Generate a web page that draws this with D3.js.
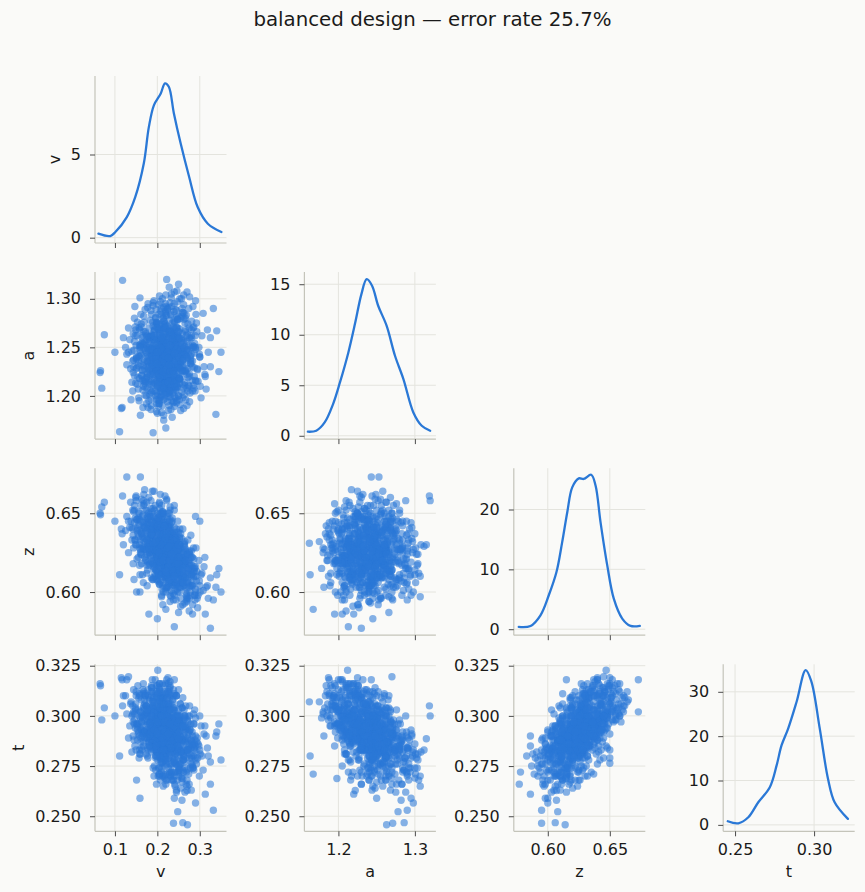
<!DOCTYPE html>
<html>
<head>
<meta charset="utf-8">
<script src="https://cdn.jsdelivr.net/npm/d3@7"></script>
<style>
  body { margin: 0; background: #fafaf8; }
  svg { display: block; font-family: "DejaVu Sans", sans-serif; }
</style>
</head>
<body>
<div id="chart"></div>
<script>
// posterior draws, one row per draw: [v, a, z, t]
const drawsA = [
  [.228,1.228,.631,.292],[.181,1.261,.625,.293],[.261,1.243,.620,.278],[.207,1.204,.643,.307],
  [.240,1.256,.609,.290],[.156,1.241,.643,.292],[.215,1.277,.622,.285],[.253,1.217,.630,.288],
  [.194,1.235,.612,.293],[.286,1.251,.613,.273],[.177,1.222,.640,.297],[.232,1.267,.620,.289],
  [.211,1.246,.639,.289],[.244,1.212,.615,.300],[.165,1.254,.635,.295],[.270,1.233,.624,.282],
  [.219,1.220,.611,.291],[.190,1.272,.633,.285],[.223,1.238,.643,.305],[.202,1.196,.618,.296],
  [.257,1.259,.618,.282],[.144,1.230,.651,.302],[.236,1.248,.627,.301],[.198,1.215,.623,.285],
  [.249,1.282,.627,.288],[.186,1.243,.619,.282],[.215,1.225,.630,.303],[.278,1.241,.604,.288],
  [.173,1.264,.639,.281],[.228,1.207,.623,.294],[.207,1.256,.624,.291],[.240,1.228,.635,.291],
  [.181,1.202,.634,.304],[.265,1.251,.619,.288],[.219,1.287,.618,.279],[.169,1.235,.627,.292],
  [.232,1.217,.606,.293],[.194,1.248,.647,.299],[.253,1.269,.617,.276],[.211,1.209,.634,.309],
  [.176,1.244,.629,.296],[.205,1.262,.641,.294],[.248,1.231,.612,.287],[.231,1.210,.628,.299],
  [.189,1.239,.637,.297],[.262,1.255,.622,.283],[.214,1.270,.619,.284],[.199,1.223,.644,.301],
  [.227,1.246,.633,.295],[.243,1.198,.620,.296],[.158,1.252,.646,.300],[.218,1.233,.616,.288],
  [.272,1.219,.611,.289],[.196,1.281,.627,.286],[.209,1.214,.631,.300],[.237,1.265,.626,.287],
  [.183,1.205,.623,.297],[.226,1.240,.640,.299],[.251,1.247,.616,.284],[.170,1.228,.641,.298],
  [.220,1.257,.609,.281],[.204,1.192,.630,.303],[.241,1.276,.630,.289],[.212,1.226,.622,.291],
  [.279,1.236,.614,.284],[.193,1.250,.652,.303],[.233,1.218,.605,.288],[.166,1.262,.629,.291],
  [.258,1.204,.625,.297],[.201,1.244,.618,.289],[.224,1.289,.636,.290],[.187,1.217,.626,.294],
  [.246,1.253,.638,.297],[.210,1.201,.612,.293],[.268,1.241,.620,.286],[.178,1.235,.648,.302],
  [.216,1.273,.628,.287],[.239,1.222,.633,.298],[.197,1.259,.614,.284],[.229,1.232,.624,.292],
  [.152,1.229,.639,.295],[.285,1.250,.609,.280],[.207,1.208,.640,.305],[.221,1.264,.630,.291],
  [.255,1.228,.603,.283],[.185,1.247,.632,.292],[.234,1.195,.621,.297],[.203,1.268,.645,.298],
  [.249,1.239,.627,.292],[.172,1.215,.620,.292],[.217,1.251,.636,.296],[.263,1.279,.618,.280],
  [.195,1.232,.629,.295],[.238,1.245,.612,.285],[.208,1.225,.650,.306],[.226,1.206,.617,.294],
  [.180,1.270,.638,.292],[.244,1.220,.626,.295],[.213,1.242,.604,.284],[.275,1.260,.625,.286],
  [.191,1.211,.616,.292],[.230,1.256,.642,.299],[.160,1.244,.633,.294],[.252,1.213,.629,.298],
  [.219,1.285,.621,.283],[.200,1.237,.637,.298],[.241,1.232,.606,.283],[.182,1.258,.625,.289],
  [.266,1.226,.617,.289],[.211,1.218,.634,.301],[.227,1.267,.613,.282],[.174,1.200,.644,.305],
  [.235,1.240,.631,.295],[.206,1.252,.611,.285],[.257,1.245,.634,.294],[.190,1.224,.620,.292],
  [.222,1.234,.643,.301],[.290,1.216,.602,.285],[.198,1.275,.640,.293],[.247,1.209,.618,.293],
  [.215,1.248,.626,.292],[.168,1.238,.655,.304],[.232,1.283,.628,.286],[.202,1.220,.608,.287],
  [.260,1.237,.622,.288],[.186,1.261,.645,.298],[.225,1.203,.627,.300],[.240,1.262,.620,.285],
  [.209,1.230,.646,.302],[.177,1.249,.614,.289],[.253,1.226,.635,.298],[.218,1.274,.609,.280],
  [.194,1.213,.631,.300],[.236,1.236,.617,.289],[.163,1.221,.624,.297],[.270,1.248,.613,.283],
  [.212,1.258,.639,.296],[.228,1.190,.630,.303],[.188,1.242,.608,.287],[.245,1.271,.632,.290],
  [.205,1.232,.621,.292],[.259,1.212,.620,.293],[.183,1.278,.634,.290],[.223,1.245,.648,.300],
  [.200,1.227,.613,.289],[.282,1.230,.622,.287],[.214,1.261,.624,.288],[.171,1.209,.632,.301],
  [.242,1.250,.625,.291],[.196,1.245,.641,.298],[.231,1.219,.614,.290],[.254,1.280,.611,.279],
  [.207,1.199,.626,.302],[.179,1.256,.650,.301],[.238,1.228,.636,.298],[.219,1.238,.610,.287],
  [.264,1.243,.630,.292],[.192,1.266,.618,.285],[.226,1.211,.642,.304],[.155,1.236,.635,.296],
  [.248,1.262,.616,.283],[.211,1.222,.629,.296],[.233,1.251,.644,.299],[.186,1.229,.609,.288],
  [.273,1.211,.618,.291],[.203,1.284,.633,.288],[.229,1.238,.621,.291],[.167,1.253,.628,.292],
  [.250,1.218,.608,.287],[.214,1.269,.646,.297],[.198,1.203,.618,.295],[.240,1.247,.638,.297],
  [.221,1.227,.603,.283],[.184,1.241,.636,.297],[.261,1.257,.626,.288],[.208,1.214,.637,.303],
  [.235,1.275,.619,.283],[.175,1.219,.617,.293],[.253,1.236,.640,.297],[.216,1.256,.616,.286],
  [.190,1.234,.653,.304],[.244,1.206,.623,.296],[.229,1.263,.635,.294],[.201,1.248,.607,.284],
  [.287,1.244,.616,.284],[.162,1.271,.637,.293],[.222,1.215,.625,.296],[.246,1.240,.632,.294],
  [.209,1.290,.624,.284],[.181,1.226,.627,.296],[.236,1.254,.610,.282],[.217,1.208,.644,.306],
  [.256,1.230,.616,.289],[.195,1.260,.640,.295],[.230,1.224,.628,.295],[.173,1.245,.621,.291],
  [.266,1.266,.626,.287],[.204,1.233,.633,.297],[.241,1.215,.613,.290],[.213,1.252,.628,.292],
  [.128,1.232,.648,.301],[.135,1.258,.641,.295],[.140,1.214,.633,.300],[.146,1.280,.652,.298],
  [.132,1.245,.625,.289],[.138,1.196,.645,.307],[.149,1.268,.660,.303],[.143,1.224,.618,.290],
  [.125,1.250,.639,.310],[.150,1.238,.630,.283],[.300,1.240,.604,.283],[.305,1.262,.612,.280],
  [.296,1.215,.598,.286],[.310,1.230,.616,.291],[.292,1.275,.607,.276],[.315,1.207,.603,.290],
  [.298,1.250,.620,.285],[.320,1.245,.596,.280],[.303,1.198,.611,.295],[.308,1.285,.601,.273],
  [.295,1.227,.590,.279],[.325,1.260,.609,.277],[.312,1.222,.622,.295],[.289,1.205,.595,.288],
  [.318,1.268,.604,.284],[.284,1.292,.615,.274],[.276,1.302,.624,.279],[.246,1.308,.630,.282],
  [.212,1.300,.637,.286],[.190,1.296,.641,.291],[.228,1.312,.629,.283],[.262,1.294,.610,.272],
  [.200,1.182,.627,.304],[.235,1.178,.615,.299],[.255,1.185,.620,.300],[.178,1.188,.644,.310],
  [.215,1.175,.632,.307],[.270,1.190,.606,.295],[.160,1.180,.625,.302],[.245,1.193,.640,.310],
  [.207,1.232,.662,.309],[.222,1.248,.659,.306],[.188,1.225,.664,.312],[.175,1.262,.657,.301],
  [.240,1.215,.655,.311],[.230,1.240,.594,.280],[.260,1.226,.592,.278],[.210,1.255,.597,.282],
  [.275,1.210,.588,.281],[.248,1.270,.600,.272],[.220,1.283,.617,.266],[.238,1.262,.612,.268],
  [.205,1.244,.605,.270],[.255,1.248,.620,.264],[.265,1.275,.603,.262],[.228,1.230,.611,.272],
  [.198,1.276,.608,.266],[.245,1.288,.615,.262],[.270,1.256,.596,.268],[.190,1.262,.619,.274],
  [.218,1.205,.622,.275],[.240,1.295,.598,.259],[.258,1.282,.607,.258],[.280,1.268,.610,.263],
  [.233,1.305,.612,.268],[.212,1.220,.648,.316],[.195,1.205,.640,.318],[.230,1.210,.652,.314],
  [.178,1.235,.646,.313],[.205,1.195,.656,.316],[.168,1.215,.642,.312],[.225,1.225,.650,.319],
  [.250,1.200,.638,.313],[.186,1.190,.636,.315]
];

const drawsB = [
  [.214,1.247,.622,.301],[.198,1.226,.638,.287],[.236,1.262,.628,.279],[.225,1.219,.611,.296],
  [.187,1.241,.645,.310],[.249,1.233,.616,.275],[.207,1.273,.634,.296],[.261,1.208,.604,.281],
  [.173,1.252,.627,.305],[.229,1.236,.641,.285],[.218,1.197,.620,.303],[.243,1.255,.636,.292],
  [.192,1.231,.615,.270],[.205,1.266,.648,.304],[.256,1.243,.609,.296],[.181,1.212,.630,.308],
  [.232,1.284,.625,.272],[.211,1.240,.602,.277],[.267,1.226,.627,.293],[.199,1.258,.622,.282],
  [.224,1.221,.646,.312],[.178,1.248,.643,.283],[.247,1.279,.619,.268],[.209,1.205,.631,.298],
  [.237,1.238,.599,.284],[.164,1.227,.637,.293],[.281,1.250,.611,.279],[.203,1.269,.613,.291],
  [.219,1.214,.634,.287],[.254,1.232,.630,.306],[.190,1.244,.608,.289],[.227,1.291,.637,.289],
  [.242,1.210,.623,.281],[.213,1.256,.651,.309],[.176,1.223,.624,.280],[.259,1.264,.614,.287],
  [.208,1.230,.619,.309],[.233,1.247,.631,.275],[.196,1.200,.640,.302],[.271,1.239,.607,.294],
  [.217,1.260,.626,.303],[.185,1.234,.653,.297],[.250,1.217,.618,.270],[.223,1.272,.603,.282],
  [.201,1.243,.633,.278],[.239,1.194,.625,.310],[.168,1.266,.641,.300],[.230,1.228,.612,.293],
  [.212,1.251,.636,.283],[.264,1.211,.621,.300],[.195,1.237,.628,.311],[.245,1.281,.626,.296],
  [.220,1.216,.608,.277],[.182,1.250,.618,.285],[.235,1.263,.645,.300],[.206,1.208,.621,.289],
  [.274,1.245,.620,.283],[.189,1.276,.639,.290],[.228,1.223,.631,.313],[.215,1.238,.616,.271],
  [.252,1.229,.634,.285],[.170,1.213,.634,.306],[.240,1.269,.610,.288],[.197,1.247,.625,.300],
  [.226,1.199,.639,.296],[.258,1.257,.619,.304],[.210,1.284,.629,.274],[.183,1.222,.648,.294],
  [.244,1.241,.606,.276],[.216,1.265,.642,.308],
  [.151,1.239,.646,.296],[.158,1.218,.630,.310],[.146,1.256,.655,.301],[.162,1.274,.638,.284],
  [.155,1.231,.622,.291],[.140,1.246,.641,.282],[.166,1.206,.649,.313],[.148,1.262,.633,.304],
  [.137,1.228,.657,.306],[.160,1.251,.627,.299],[.153,1.212,.640,.288],[.171,1.289,.645,.292],
  [.144,1.237,.628,.313],[.157,1.270,.650,.279],[.163,1.221,.618,.300],
  [.283,1.236,.604,.285],[.277,1.259,.617,.293],[.291,1.215,.610,.278],[.269,1.247,.599,.273],
  [.286,1.271,.621,.296],[.294,1.228,.596,.289],[.272,1.205,.612,.300],[.280,1.262,.626,.280],
  [.299,1.243,.607,.270],[.275,1.223,.603,.292],[.288,1.254,.615,.303],[.266,1.280,.609,.283],
  [.301,1.210,.600,.281],[.278,1.238,.622,.274],[.293,1.266,.613,.287],
  [.211,1.246,.628,.295],[.221,1.232,.624,.290],[.204,1.253,.631,.287],[.231,1.241,.621,.293],
  [.196,1.227,.634,.299],[.238,1.258,.618,.282],[.215,1.219,.626,.301],[.226,1.264,.632,.286],
  [.200,1.236,.620,.290],[.244,1.229,.625,.294],[.188,1.249,.638,.295],[.219,1.271,.622,.283],
  [.234,1.214,.616,.296],[.207,1.243,.640,.303],[.249,1.252,.611,.284],[.193,1.218,.629,.302],
  [.228,1.238,.635,.297],[.213,1.261,.617,.284],[.241,1.225,.630,.299],[.202,1.245,.625,.291],
  [.222,1.207,.628,.304],[.186,1.263,.627,.287],[.246,1.244,.620,.289],[.209,1.230,.612,.286],
  [.233,1.256,.638,.294],[.197,1.240,.646,.301],[.255,1.235,.614,.290],[.214,1.280,.633,.284],
  [.180,1.228,.631,.297],[.236,1.209,.609,.292],[.218,1.250,.642,.293],[.250,1.266,.624,.283],
  [.205,1.216,.619,.296],[.226,1.246,.604,.279],[.192,1.257,.636,.290],[.240,1.220,.627,.303],
  [.211,1.233,.637,.307],[.262,1.249,.617,.280],[.199,1.274,.626,.282],[.229,1.202,.633,.309],
  [.216,1.242,.623,.288],[.183,1.237,.640,.292],[.243,1.261,.629,.291],[.207,1.224,.606,.282],
  [.224,1.253,.619,.295],[.252,1.218,.622,.298],[.195,1.248,.632,.286],[.232,1.231,.614,.286],
  [.210,1.268,.641,.297],[.176,1.241,.635,.300],[.247,1.238,.633,.300],[.220,1.211,.618,.292],
  [.239,1.277,.620,.278],[.204,1.239,.649,.307],[.257,1.226,.608,.288],[.190,1.252,.623,.294],
  [.227,1.244,.636,.305],[.214,1.213,.624,.299],[.245,1.254,.612,.283],[.201,1.229,.629,.293],
  [.235,1.240,.625,.286],[.212,1.259,.615,.280],[.189,1.222,.642,.305],[.230,1.270,.630,.289],
  [.218,1.204,.630,.300],[.253,1.247,.621,.290],[.197,1.235,.614,.283],[.241,1.216,.632,.304],
  [.208,1.248,.634,.291],[.225,1.228,.609,.287],[.180,1.260,.630,.287],[.248,1.233,.616,.293],
  [.216,1.277,.627,.281],[.199,1.211,.625,.302],[.237,1.250,.623,.296],[.260,1.230,.625,.295],
  [.203,1.257,.638,.290],[.222,1.237,.641,.301],[.243,1.207,.619,.300],[.212,1.243,.613,.289],
  [.228,1.266,.625,.279],[.191,1.247,.630,.298],[.234,1.221,.637,.303],[.217,1.234,.620,.283],
  [.251,1.259,.627,.288],[.206,1.226,.623,.288],[.238,1.245,.616,.286],[.185,1.215,.636,.301],
  [.221,1.250,.630,.296],[.246,1.212,.613,.289],[.194,1.268,.644,.296],[.230,1.236,.618,.290],
  [.213,1.221,.643,.306],[.256,1.242,.610,.282],[.200,1.249,.617,.287],[.241,1.264,.634,.287],
  [.224,1.218,.612,.296],[.209,1.238,.626,.300],[.186,1.233,.626,.290],[.233,1.255,.628,.292],
  [.223,1.240,.622,.268],[.205,1.252,.618,.271],[.241,1.230,.611,.266],[.196,1.228,.625,.273],
  [.232,1.262,.630,.270],[.214,1.245,.606,.265],[.251,1.219,.615,.272],[.187,1.248,.636,.314],
  [.226,1.215,.641,.316],[.209,1.233,.646,.312],[.238,1.226,.633,.313],[.200,1.210,.629,.315],
  [.217,1.270,.614,.269],[.245,1.244,.605,.263],[.193,1.258,.627,.275],[.230,1.205,.638,.317],
  [.212,1.222,.651,.311],[.258,1.250,.618,.267],[.202,1.237,.610,.270],[.220,1.213,.632,.316],
  [.215,1.180,.628,.301],[.232,1.186,.620,.306],[.198,1.192,.633,.309],[.246,1.195,.619,.295],
  [.210,1.183,.637,.310],[.224,1.290,.626,.284],[.207,1.297,.632,.280],[.239,1.287,.617,.277],
  [.190,1.293,.640,.288],[.253,1.300,.614,.274],[.220,1.304,.624,.281],[.203,1.189,.624,.300],
  [.230,1.296,.634,.290],[.185,1.197,.629,.304],[.260,1.286,.609,.273],
  [.180,1.240,.617,.287],[.195,1.230,.610,.283],[.240,1.250,.641,.297],[.255,1.236,.637,.296],
  [.170,1.255,.622,.289],[.265,1.225,.632,.300],[.205,1.265,.605,.280],[.228,1.242,.650,.306],
  [.175,1.219,.612,.289],[.248,1.260,.645,.300]
];

const drawsC = [
  [.142,1.205,.640,.301],[.147,1.292,.633,.285],[.152,1.262,.621,.296],[.156,1.198,.651,.309],
  [.161,1.284,.645,.289],[.165,1.216,.611,.290],[.169,1.276,.656,.303],[.174,1.192,.626,.305],
  [.178,1.295,.619,.279],[.145,1.247,.608,.288],[.150,1.228,.661,.310],[.158,1.240,.617,.283],
  [.163,1.255,.659,.297],[.167,1.231,.606,.285],[.172,1.266,.652,.310],[.176,1.208,.604,.293],
  [.148,1.271,.647,.294],[.154,1.219,.637,.315],[.159,1.301,.628,.281],[.166,1.188,.633,.311],
  [.252,1.196,.600,.292],[.258,1.290,.606,.270],[.263,1.201,.631,.303],[.268,1.283,.598,.266],
  [.272,1.247,.633,.297],[.276,1.194,.618,.305],[.281,1.277,.604,.276],[.285,1.211,.628,.301],
  [.289,1.262,.598,.279],[.255,1.255,.596,.276],[.260,1.225,.640,.309],[.266,1.268,.622,.294],
  [.270,1.208,.595,.283],[.274,1.290,.615,.271],[.279,1.233,.636,.296],[.283,1.252,.592,.275],
  [.287,1.220,.613,.286],[.291,1.284,.628,.282],[.257,1.300,.611,.269],[.262,1.187,.610,.298],
  [.185,1.186,.623,.303],[.198,1.184,.642,.315],[.212,1.190,.612,.299],[.226,1.185,.635,.312],
  [.240,1.189,.604,.295],[.254,1.191,.628,.306],[.192,1.298,.627,.283],[.205,1.303,.617,.274],
  [.219,1.295,.644,.293],[.233,1.301,.606,.271],[.247,1.297,.625,.282],[.262,1.304,.618,.278],
  [.215,1.196,.650,.315],[.230,1.199,.598,.289],[.200,1.200,.620,.296],[.220,1.292,.602,.268],
  [.180,1.230,.660,.309],[.192,1.258,.664,.307],[.205,1.214,.657,.313],[.218,1.244,.661,.302],
  [.195,1.272,.655,.298],[.230,1.226,.654,.315],[.244,1.253,.595,.276],[.255,1.219,.591,.282],
  [.232,1.266,.597,.270],[.220,1.234,.600,.283],[.265,1.242,.593,.274],[.210,1.207,.598,.286],
  [.168,1.249,.662,.305],[.275,1.270,.596,.266],[.240,1.200,.652,.318],[.185,1.288,.658,.300],
  [.214,1.229,.618,.309],[.226,1.212,.612,.306],[.199,1.245,.622,.312],[.238,1.236,.615,.304],
  [.205,1.219,.627,.316],[.221,1.260,.630,.311],[.188,1.232,.640,.318],[.245,1.222,.620,.310],
  [.210,1.247,.635,.272],[.230,1.268,.640,.276],[.196,1.238,.645,.279],[.217,1.255,.632,.270],
  [.250,1.243,.628,.273],[.183,1.261,.648,.284],[.236,1.216,.625,.268],[.204,1.274,.637,.271],
  [.222,1.203,.615,.318],[.190,1.251,.609,.305],[.248,1.229,.605,.301],[.213,1.280,.650,.283],
  [.228,1.240,.603,.303],[.201,1.226,.612,.311],[.242,1.258,.624,.265],[.217,1.213,.642,.278],
  [.193,1.268,.616,.302],[.235,1.230,.647,.285],[.259,1.245,.610,.304],[.207,1.262,.626,.268],
  [.180,1.215,.628,.290],[.185,1.262,.640,.300],[.252,1.218,.612,.300],[.248,1.262,.625,.280],
  [.190,1.205,.618,.308],[.245,1.270,.614,.291],[.200,1.275,.642,.289],[.238,1.205,.619,.303],
  [.183,1.248,.631,.291],[.250,1.240,.618,.297],[.215,1.208,.623,.297],[.220,1.272,.636,.291],
  [.192,1.222,.648,.309],[.242,1.252,.601,.281],[.208,1.258,.610,.277],[.230,1.215,.646,.310],
  [.176,1.236,.633,.300],[.256,1.249,.622,.286],[.197,1.289,.621,.280],[.237,1.193,.628,.307],
  [.211,1.235,.619,.293],[.223,1.249,.629,.289],[.204,1.229,.632,.297],[.229,1.257,.620,.286],
  [.216,1.221,.637,.303],[.233,1.244,.613,.284],[.198,1.253,.624,.292],[.240,1.233,.630,.295],
  [.208,1.241,.616,.290],[.225,1.226,.626,.297],[.214,1.264,.631,.287],[.202,1.217,.621,.297],
  [.236,1.259,.633,.290],[.219,1.231,.614,.292],[.227,1.239,.639,.301],[.210,1.253,.627,.289]
];

const drawsD = [
  [.142,1.236,.652,.305],[.146,1.221,.644,.296],[.150,1.252,.658,.312],[.155,1.207,.647,.303],
  [.158,1.268,.639,.290],[.162,1.242,.655,.308],[.165,1.226,.648,.299],[.168,1.282,.644,.287],
  [.171,1.201,.637,.310],[.175,1.258,.652,.302],[.143,1.264,.636,.297],[.149,1.213,.630,.306],
  [.153,1.276,.646,.293],[.157,1.195,.642,.311],[.161,1.233,.624,.287],[.164,1.260,.628,.283],
  [.167,1.210,.658,.316],[.172,1.247,.641,.311],[.177,1.291,.631,.284],[.159,1.247,.611,.281],
  [.262,1.238,.604,.290],[.265,1.214,.609,.299],[.268,1.262,.602,.279],[.271,1.228,.615,.298],
  [.274,1.252,.606,.285],[.277,1.203,.600,.293],[.280,1.243,.611,.288],[.284,1.270,.605,.274],
  [.287,1.229,.598,.283],[.290,1.248,.616,.290],[.263,1.285,.612,.277],[.267,1.196,.620,.305],
  [.272,1.274,.624,.283],[.276,1.220,.626,.300],[.281,1.260,.617,.286],[.286,1.208,.610,.296],
  [.269,1.240,.594,.272],[.278,1.234,.598,.276],[.264,1.250,.629,.295],[.282,1.216,.622,.292],
  [.198,1.196,.627,.305],[.210,1.199,.619,.300],[.224,1.194,.631,.309],[.236,1.203,.613,.294],
  [.250,1.200,.622,.303],[.186,1.204,.637,.312],[.204,1.192,.645,.314],[.228,1.205,.606,.292],
  [.244,1.209,.633,.310],[.217,1.201,.610,.297],
  [.196,1.280,.631,.285],[.208,1.287,.621,.279],[.222,1.283,.637,.290],[.234,1.292,.614,.276],
  [.248,1.279,.627,.285],[.186,1.284,.642,.292],[.203,1.294,.611,.274],[.229,1.278,.645,.296],
  [.243,1.289,.605,.272],[.215,1.291,.628,.283],
  [.232,1.230,.601,.284],[.245,1.248,.604,.278],[.226,1.214,.607,.291],[.252,1.260,.603,.273],
  [.238,1.222,.610,.288],[.214,1.240,.600,.280],[.260,1.236,.606,.295],[.221,1.255,.611,.276],
  [.247,1.210,.602,.290],[.229,1.266,.608,.271],
  [.188,1.240,.651,.307],[.198,1.226,.645,.310],[.182,1.255,.649,.296],[.205,1.219,.653,.312],
  [.193,1.262,.643,.293],[.176,1.230,.647,.303],[.210,1.246,.655,.300],[.186,1.212,.644,.314],
  [.200,1.270,.650,.291],[.216,1.235,.642,.306],
  [.212,1.236,.622,.306],[.224,1.245,.628,.309],[.206,1.228,.619,.304],[.230,1.252,.631,.303],
  [.218,1.241,.634,.312],[.200,1.233,.626,.306],[.236,1.226,.623,.308],[.214,1.258,.620,.277],
  [.226,1.239,.616,.274],[.208,1.249,.630,.279],[.240,1.244,.626,.277],[.220,1.227,.613,.278],
  [.196,1.241,.632,.280],[.233,1.263,.624,.272],[.204,1.222,.625,.308],[.228,1.232,.629,.311]
];

// stray draws
const drawsEdge = [
  [.065,1.224,.650,.316],[.066,1.226,.649,.315],[.069,1.208,.654,.298],[.075,1.263,.657,.304],
  [.118,1.319,.661,.305],[.222,1.320,.658,.300],[.111,1.163,.611,.280],[.115,1.187,.640,.319],
  [.117,1.188,.637,.318],[.128,1.243,.673,.318],[.160,1.253,.673,.302],[.340,1.267,.611,.292],
  [.350,1.245,.600,.278],[.338,1.181,.603,.290],[.332,1.290,.595,.253],[.325,1.230,.577,.266],
  [.313,1.220,.586,.261],[.283,1.205,.586,.290],[.238,1.271,.595,.2465],[.248,1.278,.608,.2523],
  [.271,1.263,.614,.2458],[.260,1.286,.606,.2468],[.290,1.298,.600,.2566],[.201,1.212,.647,.3227],
  [.159,1.250,.600,.259],[.151,1.240,.600,.268],[.213,1.225,.592,.270],[.190,1.162,.631,.307],
  [.220,1.167,.589,.271],[.240,1.213,.578,.272],[.200,1.245,.583,.280],[.250,1.266,.587,.275],
  [.270,1.307,.597,.265],[.240,1.307,.610,.270],[.180,1.195,.586,.285],[.170,1.217,.665,.308],
  [.250,1.315,.630,.2886],[.260,1.198,.615,.2688],[.270,1.222,.607,.2628],[.300,1.240,.645,.300],
  [.290,1.250,.648,.299],[.210,1.260,.650,.2764],[.120,1.260,.630,.310],[.100,1.245,.645,.300],
  [.345,1.225,.615,.296],[.132,1.270,.645,.3195]
];

const samples = [...drawsA, ...drawsB, ...drawsC, ...drawsD, ...drawsEdge];

// density curves: [value, density]
const kdeV = [[.061,.24],[.089,.10],[.101,.34],[.128,1.24],[.148,2.45],[.168,4.46],[.180,6.66],
  [.192,7.97],[.208,8.67],[.218,9.28],[.227,9.07],[.239,7.47],[.255,5.66],[.275,3.65],
  [.295,1.84],[.319,.84],[.351,.34]];
const kdeA = [[1.160,.40],[1.171,.50],[1.182,1.32],[1.193,3.14],[1.202,5.28],[1.213,8.25],
  [1.222,11.2],[1.230,14.0],[1.237,15.5],[1.244,14.85],[1.252,12.87],[1.263,10.9],[1.274,7.92],
  [1.285,5.61],[1.298,2.31],[1.309,.99],[1.320,.50]];
const kdeZ = [[.5766,.38],[.5861,.55],[.5941,2.33],[.6008,5.67],[.6070,9.55],[.6116,14.55],
  [.6157,19.55],[.6197,23.7],[.6250,25.2],[.6290,25.1],[.6350,25.8],[.6385,24.0],[.6425,17.9],
  [.6479,10.7],[.6532,5.1],[.6600,1.78],[.6667,.55],[.6742,.55]];
const kdeT = [[.2454,.81],[.2521,.36],[.2584,1.72],[.2647,5.1],[.2720,8.5],[.2763,13.4],
  [.2794,17.9],[.2836,21.7],[.2889,27.7],[.2947,34.9],[.2983,32.3],[.3036,21.7],[.3088,10.4],
  [.3130,5.1],[.3214,1.36]];

// axis extents and ticks
const vDomain = [0.053, 0.363];
const aDomain = [1.1555, 1.3275];
const zDomain = [0.5726, 0.6786];
const tDomain = [0.2425, 0.3257];
const vTicks = [0.1, 0.2, 0.3];
const aTicksX = [1.2, 1.3];
const aTicksY = [1.20, 1.25, 1.30];
const zTicks = [0.60, 0.65];
const tTicksX = [0.25, 0.30];
const tTicksY = [0.250, 0.275, 0.300, 0.325];
const densDomains = [[-0.32, 9.72], [-0.33, 16.2], [-1.0, 26.9], [-1.45, 36.2]];
const densTicks = [[0, 5], [0, 5, 10, 15], [0, 10, 20], [0, 10, 20, 30]];

const vars = [
  { name: 'v', domain: vDomain, xTicks: vTicks, xFmt: '.1f', yTicks: vTicks, yFmt: '.1f', kde: kdeV },
  { name: 'a', domain: aDomain, xTicks: aTicksX, xFmt: '.1f', yTicks: aTicksY, yFmt: '.2f', kde: kdeA },
  { name: 'z', domain: zDomain, xTicks: zTicks, xFmt: '.2f', yTicks: zTicks, yFmt: '.2f', kde: kdeZ },
  { name: 't', domain: tDomain, xTicks: tTicksX, xFmt: '.2f', yTicks: tTicksY, yFmt: '.3f', kde: kdeT }
];
vars.forEach((d, i) => { d.densDomain = densDomains[i]; d.densTicks = densTicks[i]; });

const W = 865, H = 892;
const layout = { left: 95, top: 76, colStep: 209.4, rowStep: 196.1, w: 131.5, h: 167 };
const colors = { mark: '#2a78d6', grid: '#e4e4de', spine: '#c4c4ba', tick: '#4a4a4a', text: '#1a1a1a' };

const svg = d3.select('#chart').append('svg')
  .attr('width', W)
  .attr('height', H);

svg.append('rect').attr('width', W).attr('height', H).attr('fill', '#fafaf8');

svg.append('text')
  .attr('x', 432.5)
  .attr('y', 26)
  .attr('text-anchor', 'middle')
  .attr('font-size', '19.8px')
  .attr('fill', colors.text)
  .text('balanced design — error rate 25.7%');

vars.forEach((rowVar, i) => {
  vars.forEach((colVar, j) => {
    if (j > i) return;
    const diag = i === j;
    const g = svg.append('g')
      .attr('transform', `translate(${layout.left + j * layout.colStep},${layout.top + i * layout.rowStep})`);

    const x = d3.scaleLinear().domain(colVar.domain).range([0, layout.w]);
    const y = d3.scaleLinear().domain(diag ? rowVar.densDomain : rowVar.domain).range([layout.h, 0]);
    const yTicks = diag ? rowVar.densTicks : rowVar.yTicks;

    // grid
    g.append('g').selectAll('line').data(colVar.xTicks).join('line')
      .attr('x1', d => x(d)).attr('x2', d => x(d))
      .attr('y1', 0).attr('y2', layout.h)
      .attr('stroke', colors.grid).attr('stroke-width', 1);
    g.append('g').selectAll('line').data(yTicks).join('line')
      .attr('x1', 0).attr('x2', layout.w)
      .attr('y1', d => y(d)).attr('y2', d => y(d))
      .attr('stroke', colors.grid).attr('stroke-width', 1);

    if (diag) {
      const line = d3.line()
        .x(d => x(d[0]))
        .y(d => y(d[1]))
        .curve(d3.curveCatmullRom.alpha(0.5));
      g.append('path')
        .datum(rowVar.kde)
        .attr('d', line)
        .attr('fill', 'none')
        .attr('stroke', colors.mark)
        .attr('stroke-width', 2.3)
        .attr('stroke-linejoin', 'round')
        .attr('stroke-linecap', 'round');
    } else {
      g.append('g').selectAll('circle').data(samples).join('circle')
        .attr('cx', d => x(d[j]))
        .attr('cy', d => y(d[i]))
        .attr('r', 3.7)
        .attr('fill', colors.mark)
        .attr('fill-opacity', 0.57);
    }

    // spines
    g.append('line').attr('x1', 0).attr('x2', 0).attr('y1', 0).attr('y2', layout.h)
      .attr('stroke', colors.spine).attr('stroke-width', 1.2);
    g.append('line').attr('x1', 0).attr('x2', layout.w).attr('y1', layout.h).attr('y2', layout.h)
      .attr('stroke', colors.spine).attr('stroke-width', 1.2);

    const yAxis = g.append('g')
      .call(d3.axisLeft(y).tickValues(yTicks)
        .tickFormat(d3.format(diag ? 'd' : rowVar.yFmt))
        .tickSize(5).tickPadding(9));
    const xAxis = g.append('g')
      .attr('transform', `translate(0,${layout.h})`)
      .call(d3.axisBottom(x).tickValues(colVar.xTicks)
        .tickFormat(i === 3 ? d3.format(colVar.xFmt) : () => '')
        .tickSize(5).tickPadding(7));

    [yAxis, xAxis].forEach(ax => {
      ax.attr('font-family', null).attr('font-size', null);
      ax.select('.domain').remove();
      ax.selectAll('.tick line').attr('stroke', colors.tick).attr('stroke-width', 1);
      ax.selectAll('.tick text').attr('fill', colors.text).attr('font-size', '16px');
    });

    if (j === 0) {
      const bb = yAxis.node().getBBox();
      g.append('text')
        .attr('transform', `translate(${bb.x - 11},${layout.h / 2}) rotate(-90)`)
        .attr('text-anchor', 'middle')
        .attr('font-size', '16px')
        .attr('fill', colors.text)
        .text(rowVar.name);
    }
    if (i === 3) {
      g.append('text')
        .attr('x', layout.w / 2)
        .attr('y', layout.h + 46)
        .attr('text-anchor', 'middle')
        .attr('font-size', '16px')
        .attr('fill', colors.text)
        .text(colVar.name);
    }
  });
});
</script>
</body>
</html>
